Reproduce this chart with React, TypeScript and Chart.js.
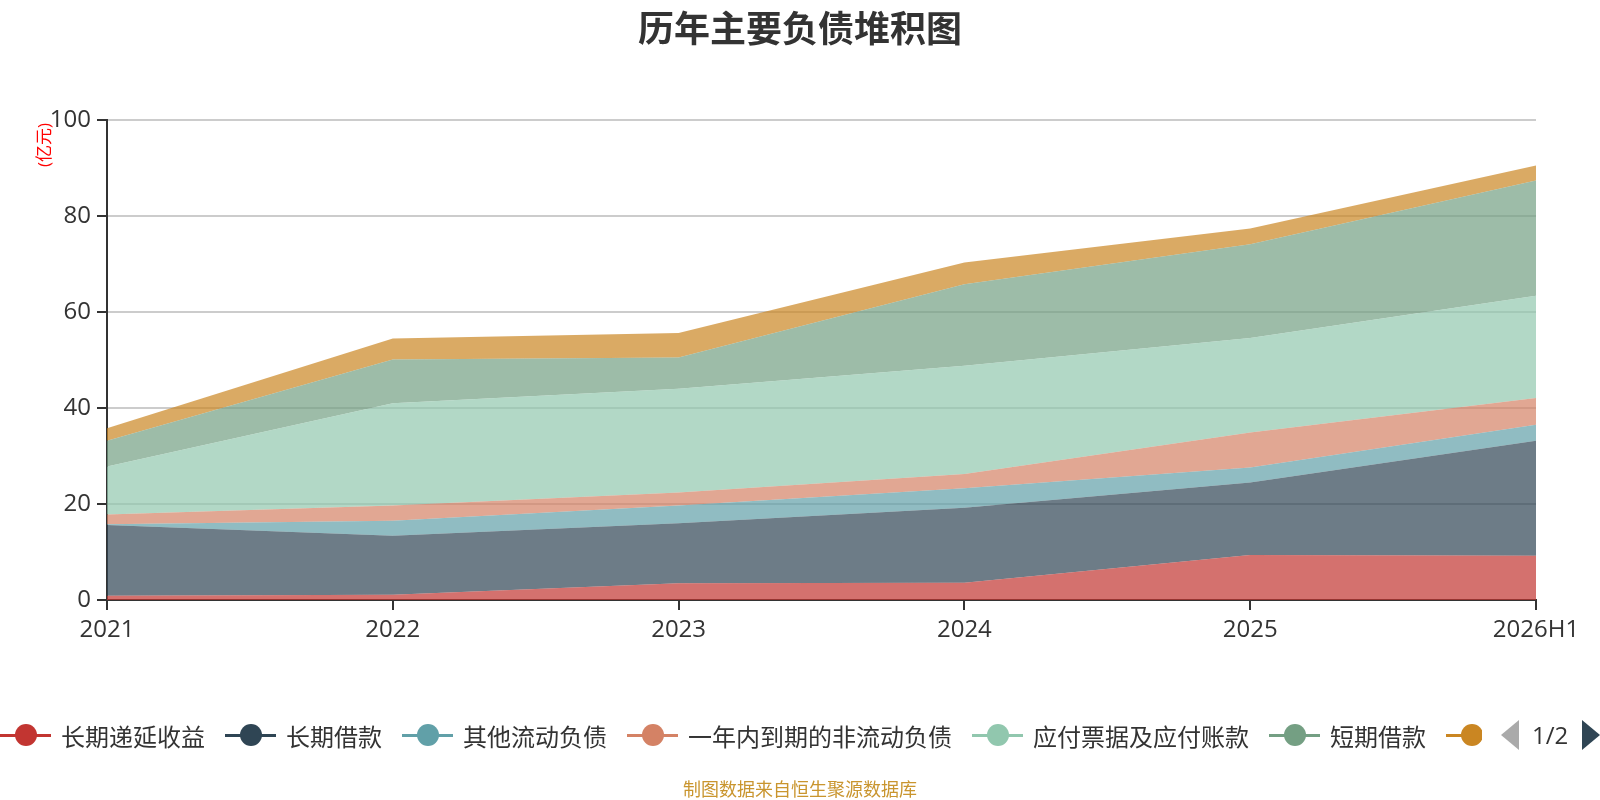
import { useEffect, useRef } from "react";
import { Chart, registerables } from "chart.js";

Chart.register(...registerables);

// values in 亿元
const years = ["2021", "2022", "2023", "2024", "2025", "2026H1"];
const deferredIncome = [0.9, 1.1, 3.5, 3.6, 9.4, 9.2];
const longLoans = [14.7, 12.3, 12.5, 15.6, 15.1, 24.0];
const otherCurrent = [0.2, 3.1, 3.7, 4.1, 3.1, 3.3];
const dueWithinYear = [2.0, 3.2, 2.7, 2.95, 7.3, 5.6];
const payables = [10.0, 21.3, 21.6, 22.55, 19.7, 21.3];
const shortLoans = [5.4, 9.1, 6.5, 17.0, 19.5, 24.0];
const bonds = [2.6, 4.4, 5.1, 4.5, 3.3, 3.1];
const yTicks = [0, 20, 40, 60, 80, 100];

const seriesNames = [
  "长期递延收益",
  "长期借款",
  "其他流动负债",
  "一年内到期的非流动负债",
  "应付票据及应付账款",
  "短期借款",
  "应付债券",
];
const seriesData = [deferredIncome, longLoans, otherCurrent, dueWithinYear, payables, shortLoans, bonds];
const colors = ["#c23531", "#2f4554", "#61a0a8", "#d48265", "#91c7ae", "#749f83", "#ca8622"];
const fills = [
  "rgba(194,53,49,0.7)",
  "rgba(47,69,84,0.7)",
  "rgba(97,160,168,0.7)",
  "rgba(212,130,101,0.7)",
  "rgba(145,199,174,0.7)",
  "rgba(116,159,131,0.7)",
  "rgba(202,134,34,0.7)",
];

const FONT = "'Microsoft YaHei', 'Open Sans', 'Noto Sans CJK SC', sans-serif";

// y axis unit, rotated, like the echarts axis name
const unitLabel = {
  id: "unitLabel",
  afterDraw(chart: Chart) {
    const ctx = chart.ctx;
    ctx.save();
    ctx.translate(45, 145);
    ctx.rotate(-Math.PI / 2);
    ctx.fillStyle = "#ff0000";
    ctx.font = "17px " + FONT;
    ctx.textAlign = "center";
    ctx.textBaseline = "middle";
    ctx.fillText("(亿元)", 0, 0);
    ctx.restore();
  },
};

function LegendItem({ name, color, showText }: { name: string; color: string; showText: boolean }) {
  return (
    <div style={{ display: "flex", alignItems: "center", marginRight: showText ? 20 : 0, flexShrink: 0 }}>
      <div style={{ position: "relative", width: 51, height: 24 }}>
        <div style={{ position: "absolute", left: 0, top: 11, width: 51, height: 3, background: color }} />
        <div
          style={{
            position: "absolute",
            left: 14.5,
            top: 1,
            width: 22,
            height: 22,
            borderRadius: "50%",
            background: color,
          }}
        />
      </div>
      {showText && <span style={{ marginLeft: 10, whiteSpace: "nowrap" }}>{name}</span>}
    </div>
  );
}

export default function App() {
  const chartRef = useRef<HTMLCanvasElement>(null);
  const chartInstance = useRef<Chart | null>(null);

  useEffect(() => {
    if (!chartRef.current) return;
    if (chartInstance.current) chartInstance.current.destroy();

    chartInstance.current = new Chart(chartRef.current, {
      type: "line",
      data: {
        labels: years,
        datasets: seriesData.map((d, i) => ({
          label: seriesNames[i],
          data: d,
          backgroundColor: fills[i],
          borderColor: colors[i],
          borderWidth: 0,
          pointRadius: 0,
          fill: i === 0 ? "origin" : "-1",
          tension: 0,
        })),
      },
      options: {
        animation: false,
        responsive: true,
        maintainAspectRatio: false,
        layout: { padding: { left: 0, right: 64, top: 120, bottom: 160 } },
        plugins: {
          legend: { display: false },
          tooltip: { enabled: false },
        },
        scales: {
          x: {
            offset: false,
            grid: {
              drawOnChartArea: false,
              drawTicks: true,
              tickLength: 10,
              tickColor: "#333",
              lineWidth: 2,
            },
            border: { color: "#333", width: 2 },
            ticks: {
              color: "#333",
              padding: 6,
              maxRotation: 0,
              autoSkip: false,
              font: { size: 24, family: FONT },
            },
            afterFit: (scale) => {
              scale.height = 40;
            },
          },
          y: {
            stacked: true,
            min: 0,
            max: 100,
            afterBuildTicks: (scale) => {
              scale.ticks = yTicks.map((v) => ({ value: v }));
            },
            grid: {
              color: "#ccc",
              lineWidth: 2,
              tickLength: 10,
              tickColor: "#333",
            },
            border: { color: "#333", width: 2 },
            ticks: {
              color: "#333",
              padding: 6,
              font: { size: 24, family: FONT },
            },
            afterFit: (scale) => {
              scale.width = 107;
            },
          },
        },
      },
      plugins: [unitLabel],
    });

    return () => {
      if (chartInstance.current) {
        chartInstance.current.destroy();
        chartInstance.current = null;
      }
    };
  }, []);

  return (
    <div
      style={{
        position: "absolute",
        left: 0,
        top: 0,
        width: 1600,
        height: 800,
        background: "#fff",
        overflow: "hidden",
        fontFamily: FONT,
      }}
    >
      <div style={{ position: "absolute", left: 0, top: 0, width: 1600, height: 800 }}>
        <canvas ref={chartRef}></canvas>
      </div>
      <div
        style={{
          position: "absolute",
          left: 0,
          top: 9,
          width: 1600,
          textAlign: "center",
          fontSize: 36,
          lineHeight: "40px",
          fontWeight: "bold",
          color: "#333",
        }}
      >
        历年主要负债堆积图
      </div>
      <div
        style={{
          position: "absolute",
          left: 0,
          top: 719,
          width: 1482,
          height: 32,
          overflow: "hidden",
          display: "flex",
          alignItems: "center",
          fontSize: 24,
          color: "#333",
        }}
      >
        {seriesNames.map((n, i) => (
          <LegendItem key={n} name={n} color={colors[i]} showText={i < seriesNames.length - 1} />
        ))}
      </div>
      <div
        style={{
          position: "absolute",
          left: 1501,
          top: 720,
          width: 0,
          height: 0,
          borderTop: "15px solid transparent",
          borderBottom: "15px solid transparent",
          borderRight: "18px solid #aaa",
        }}
      />
      <div
        style={{
          position: "absolute",
          left: 1532,
          top: 719,
          fontSize: 24,
          lineHeight: "32px",
          color: "#333",
        }}
      >
        1/2
      </div>
      <div
        style={{
          position: "absolute",
          left: 1582,
          top: 720,
          width: 0,
          height: 0,
          borderTop: "15px solid transparent",
          borderBottom: "15px solid transparent",
          borderLeft: "18px solid #2f4554",
        }}
      />
      <div
        style={{
          position: "absolute",
          left: 683,
          top: 777,
          fontSize: 18,
          lineHeight: "24px",
          color: "#c9952e",
          whiteSpace: "nowrap",
        }}
      >
        制图数据来自恒生聚源数据库
      </div>
    </div>
  );
}
